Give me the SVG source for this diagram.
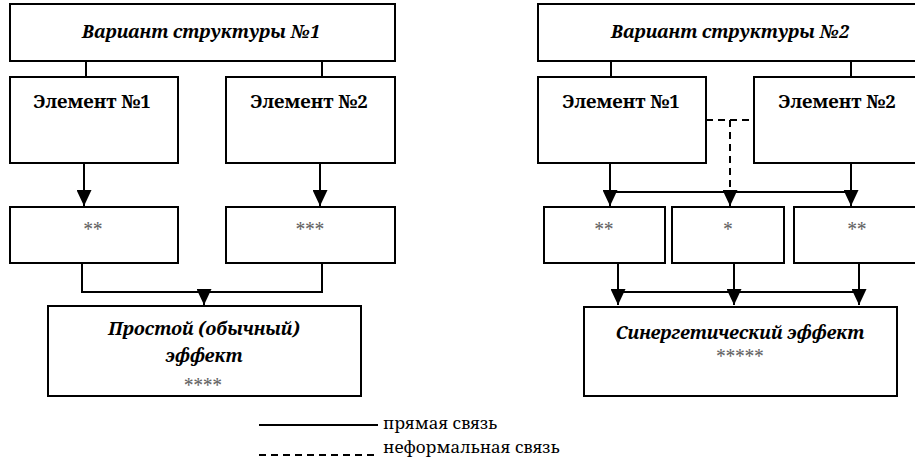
<svg xmlns="http://www.w3.org/2000/svg" width="915" height="461" viewBox="0 0 915 461">
  <style>
    .box { fill: #ffffff; stroke: #000000; stroke-width: 2; }
    .ln { fill: none; stroke: #000000; stroke-width: 2; }
    .dash { fill: none; stroke: #000000; stroke-width: 2; stroke-dasharray: 7 5; }
    text { font-family: 'Noto Serif', 'DejaVu Serif', serif; }
    .title { font-weight: bold; font-style: italic; font-size: 18px; fill: #000000; text-anchor: middle; }
    .elem { font-weight: bold; font-size: 18.5px; fill: #000000; text-anchor: middle; }
    .star { font-size: 19px; fill: #666666; text-anchor: middle; }
    .legend { font-size: 17px; fill: #000000; }
  </style>
  <defs>
    <marker id="arrow" viewBox="0 0 16 15" refX="16" refY="7.5" markerWidth="16" markerHeight="15" markerUnits="userSpaceOnUse" orient="auto">
      <path d="M0,0 L16,7.5 L0,15 Z" fill="#000000" stroke="none"/>
    </marker>
  </defs>

  <rect width="915" height="461" fill="#ffffff"/>

  <!-- Structure variant 1 -->
  <g id="top1">
    <rect class="box" x="10" y="4" width="385" height="57"/>
    <text class="title" x="201" y="38">Вариант структуры №1</text>
  </g>
  <g id="l_el1">
    <rect class="box" x="10" y="77" width="168" height="86"/>
    <text class="elem" x="92" y="108">Элемент №1</text>
  </g>
  <g id="l_el2">
    <rect class="box" x="226" y="77" width="169" height="86"/>
    <text class="elem" x="309" y="108">Элемент №2</text>
  </g>
  <g id="l_s1">
    <rect class="box" x="10" y="207" width="168" height="56"/>
    <text class="star" x="93" y="237">**</text>
  </g>
  <g id="l_s2">
    <rect class="box" x="226" y="207" width="169" height="56"/>
    <text class="star" x="310" y="237">***</text>
  </g>
  <g id="eff1">
    <rect class="box" x="48" y="306" width="313" height="90"/>
    <text class="title" x="204" y="335">Простой (обычный)</text>
    <text class="title" x="204" y="362">эффект</text>
    <text class="star" x="203" y="393">****</text>
  </g>

  <!-- Structure variant 2 -->
  <g id="top2">
    <rect class="box" x="538" y="4" width="384" height="57"/>
    <text class="title" x="730" y="38">Вариант структуры №2</text>
  </g>
  <g id="r_el1">
    <rect class="box" x="538" y="77" width="168" height="86"/>
    <text class="elem" x="621" y="108">Элемент №1</text>
  </g>
  <g id="r_el2">
    <rect class="box" x="754" y="77" width="170" height="86"/>
    <text class="elem" x="837" y="108">Элемент №2</text>
  </g>
  <g id="r_s1">
    <rect class="box" x="544" y="207" width="121" height="56"/>
    <text class="star" x="604" y="237">**</text>
  </g>
  <g id="r_s2">
    <rect class="box" x="672" y="207" width="112" height="56"/>
    <text class="star" x="728" y="237">*</text>
  </g>
  <g id="r_s3">
    <rect class="box" x="794" y="207" width="130" height="56"/>
    <text class="star" x="857" y="237">**</text>
  </g>
  <g id="eff2">
    <rect class="box" x="584" y="307" width="313" height="89"/>
    <text class="title" x="740" y="339">Синергетический эффект</text>
    <text class="star" x="740" y="364">*****</text>
  </g>

  <!-- Connectors -->
  <g id="connectors">
    <!-- variant 1 -->
    <path class="ln" d="M86,61 V77"/>
    <path class="ln" d="M322,61 V77"/>
    <path class="ln" d="M84,163 V206" marker-end="url(#arrow)"/>
    <path class="ln" d="M320,163 V206" marker-end="url(#arrow)"/>
    <path class="ln" d="M82,263 V292 H322 V263"/>
    <path class="ln" d="M204,292 V305" marker-end="url(#arrow)"/>

    <!-- variant 2 -->
    <path class="ln" d="M611,61 V77"/>
    <path class="ln" d="M851,61 V77"/>
    <path class="ln" d="M610,163 V206" marker-end="url(#arrow)"/>
    <path class="ln" d="M851,163 V206" marker-end="url(#arrow)"/>
    <path class="ln" d="M610,192 H851"/>
    <path class="dash" d="M706,120 H754"/>
    <path class="dash" d="M730,120 V206" marker-end="url(#arrow)"/>
    <path class="ln" d="M618,263 V305" marker-end="url(#arrow)"/>
    <path class="ln" d="M734,263 V305" marker-end="url(#arrow)"/>
    <path class="ln" d="M859,263 V305" marker-end="url(#arrow)"/>
    <path class="ln" d="M618,292 H859"/>
  </g>

  <!-- Legend -->
  <g id="legend">
    <path class="ln" d="M259,425 H378"/>
    <text class="legend" x="383" y="429">прямая связь</text>
    <path class="dash" d="M259,455 H378"/>
    <text class="legend" x="383" y="453">неформальная связь</text>
  </g>
</svg>
